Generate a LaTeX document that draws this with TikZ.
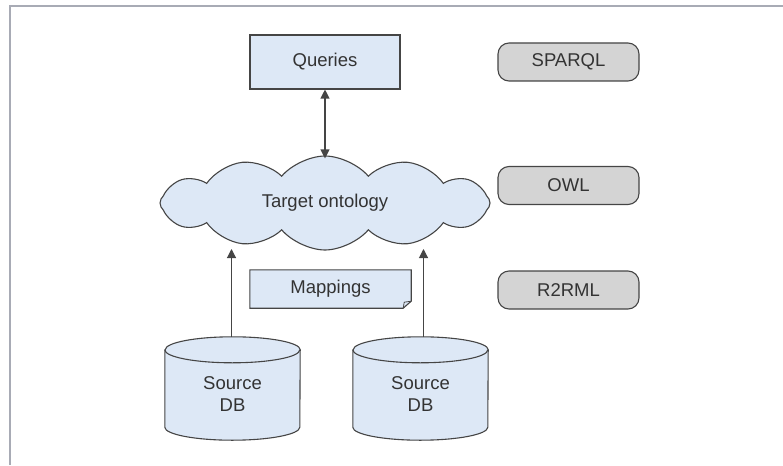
\documentclass[tikz,border=0pt]{standalone}
\usepackage{fontspec}
\setmainfont{Liberation Sans}
\usetikzlibrary{shapes.symbols,arrows.meta}
\definecolor{boxfill}{HTML}{DDE8F6}
\definecolor{pillfill}{HTML}{D4D4D4}
\definecolor{edgec}{HTML}{454545}
\definecolor{txtc}{HTML}{333333}
\definecolor{framec}{HTML}{A8ABB5}
\begin{document}
\begin{tikzpicture}[x=1pt,y=-1pt,
  lbl/.style={text=txtc, font=\fontsize{18.5}{22}\selectfont, inner sep=0pt, align=center},
  box/.style={lbl, draw=edgec, fill=boxfill, line width=1.1pt},
  pill/.style={lbl, draw=edgec, fill=pillfill, line width=1.1pt, rounded corners=11pt, minimum width=141pt, minimum height=38pt},
  shp/.style={draw=edgec, fill=boxfill, line width=1.1pt},
  arr/.style={draw=edgec, line width=1.1pt, -{Triangle[length=9pt,width=9pt]}},
  darr/.style={draw=edgec, line width=1.1pt, {Triangle[length=9pt,width=9pt]}-{Triangle[length=9pt,width=9pt]}}
]
\useasboundingbox (0,0) rectangle (783,465);
% frame
\draw[framec, line width=1.5pt] (10,465) -- (10,6) -- (783,6);

% queries
\node[box, minimum width=150pt, minimum height=54pt] (queries) at (325,62) {Queries};

% pills
\node[pill] (sparql) at (568.5,62) {SPARQL};
\node[pill] (owl) at (568.5,185.5) {OWL};
\node[pill] (r2rml) at (568.5,290) {R2RML};

% cloud
\node[lbl, cloud, cloud puffs=12, cloud puff arc=100, cloud ignores aspect, draw=edgec, fill=boxfill, line width=1.1pt,
      minimum width=330pt, minimum height=94pt] (onto) at (325,203) {Target ontology};

% mappings
\node[lbl, minimum width=161pt, minimum height=38pt] (map) at (330.5,289) {};
\path[shp] (map.north west) -- (map.north east) -- ([yshift=7pt]map.south east)
  -- ([xshift=-8pt]map.south east) -- (map.south west) -- cycle;
\draw[edgec, line width=0.8pt] ([yshift=7pt]map.south east) -- ([xshift=-7pt,yshift=6pt]map.south east) -- ([xshift=-8pt]map.south east);
\node[lbl] (maptxt) at (map.center) {Mappings};

% databases
\node[minimum width=135pt, minimum height=103pt, inner sep=0pt] (db1) at (232.5,388.5) {};
\node[minimum width=135pt, minimum height=103pt, inner sep=0pt] (db2) at (420.5,388.5) {};
\foreach \d in {db1,db2}{
  \path[shp] ([yshift=-13pt]\d.north west) -- ([yshift=13pt]\d.south west)
    arc[start angle=180,end angle=360,x radius=67.5pt,y radius=13pt]
    -- ([yshift=-13pt]\d.north east)
    arc[start angle=0,end angle=180,x radius=67.5pt,y radius=13pt] -- cycle;
  \draw[edgec, line width=1.1pt] ([yshift=-13pt]\d.north west)
    arc[start angle=180,end angle=360,x radius=67.5pt,y radius=13pt];
}
\node[lbl] (db1t) at ([yshift=-6pt]db1.center) {Source\\DB};
\node[lbl] (db2t) at ([yshift=-6pt]db2.center) {Source\\DB};

% connectors
\coordinate (c1) at (db1.north |- 0,249);
\coordinate (c2) at ([xshift=3pt]db2.north |- 0,249);
\draw[darr] (queries.south) -- ([yshift=-3pt]queries.south |- onto.north);
\draw[arr] ([xshift=-1pt]db1.north) -- ([xshift=-1pt]c1);
\draw[arr] ([xshift=3pt]db2.north) -- (c2);
\end{tikzpicture}
\end{document}
